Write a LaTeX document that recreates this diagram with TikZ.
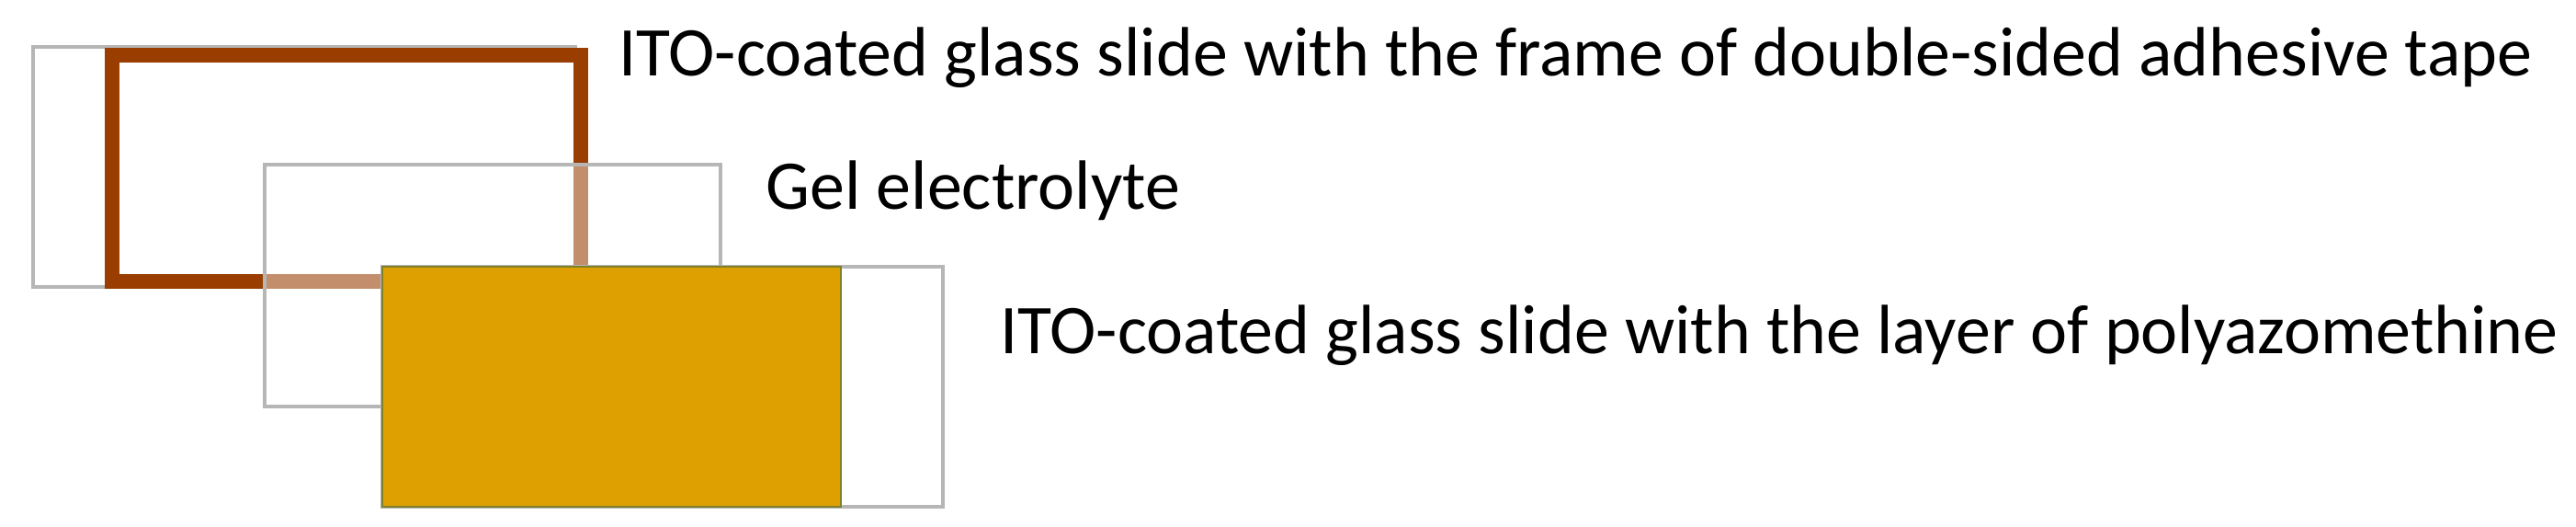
\documentclass[tikz,border=0pt]{standalone}
\usepackage{fontspec}
\setmainfont{Carlito}
\usetikzlibrary{positioning}

\definecolor{tapebrown}{RGB}{153,61,0}
\definecolor{pazmyellow}{RGB}{222,160,0}
\definecolor{pazmedge}{RGB}{128,128,40}
\definecolor{glassedge}{RGB}{182,182,182}

\begin{document}
\begin{tikzpicture}[x=1cm, y=1cm,
    slide/.style={rectangle, draw=glassedge, line width=1.1pt, fill=white, inner sep=0pt, outer sep=0pt},
    tape/.style={rectangle, draw=tapebrown, line width=4.5pt, inner sep=0pt, outer sep=0pt},
    gel/.style={rectangle, draw=glassedge, line width=1.1pt, fill=white, fill opacity=0.42, inner sep=0pt, outer sep=0pt},
    layer/.style={rectangle, draw=pazmedge, line width=0.8pt, fill=pazmyellow, inner sep=0pt, outer sep=0pt},
    caption/.style={anchor=base west, inner sep=0pt, font=\fontsize{21.6}{26}\selectfont}]

    \useasboundingbox (0,0) rectangle (28.03,-5.73);

    % Top slide with tape frame
    \node [slide, anchor=north west, minimum width=5.90cm, minimum height=2.61cm] (topslide) at (0.36,-0.51) {};
    \node [tape, anchor=north west, minimum width=5.10cm, minimum height=2.46cm] (frame) at (1.22,-0.60) {};

    % Gel electrolyte
    \node [gel, anchor=north west, minimum width=4.96cm, minimum height=2.63cm] (gel) at (2.88,-1.79) {};

    % Bottom slide with polyazomethine layer
    \node [slide, anchor=north west, minimum width=6.10cm, minimum height=2.61cm] (botslide) at (4.16,-2.90) {};
    \node [layer, anchor=north west, minimum width=4.99cm, minimum height=2.61cm] (pazm) at (4.16,-2.90) {};

    % Labels
    \node [caption] (frame_label) at (6.73,-0.83) {ITO-coated glass slide with the frame of double-sided adhesive tape};
    \node [caption] (gel_label) at (8.33,-2.28) {Gel electrolyte};
    \node [caption] (pazm_label) at (10.88,-3.85) {ITO-coated glass slide with the layer of polyazomethine};

\end{tikzpicture}
\end{document}
